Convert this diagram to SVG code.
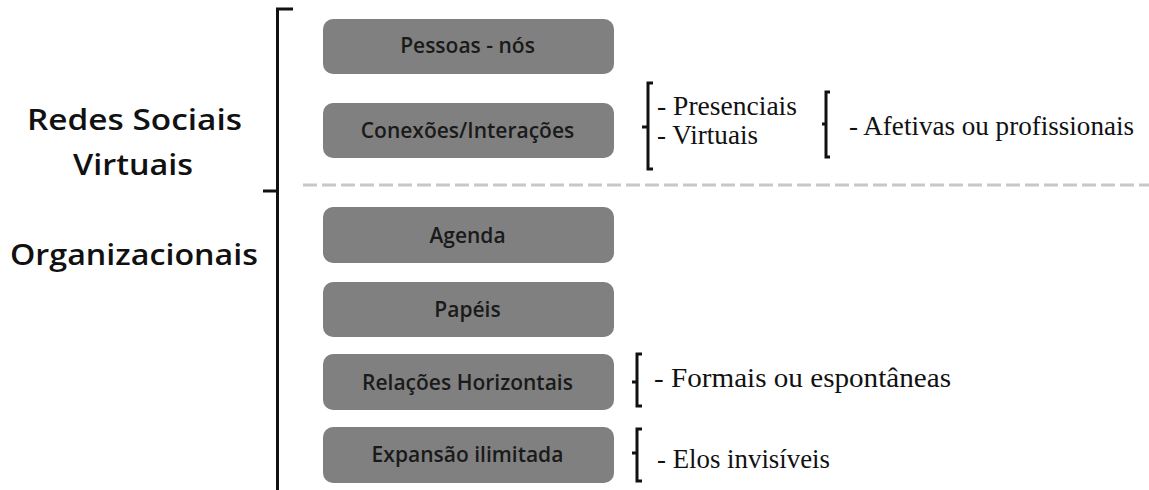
<svg xmlns="http://www.w3.org/2000/svg" width="1149" height="490" viewBox="0 0 1149 490">
<style>
.box{fill:#808080;}
.bt{font-family:"Open Sans","Liberation Sans",sans-serif;font-weight:600;font-size:21px;fill:#1a1a1a;text-anchor:middle;}
.lbl{font-family:"Open Sans","Liberation Sans",sans-serif;font-weight:600;font-size:29px;fill:#111;text-anchor:middle;}
.st{font-family:"Liberation Serif",serif;font-size:27px;fill:#111;}
.br{fill:none;stroke:#111;stroke-width:3;}
.dash{stroke:#c8c8c8;stroke-width:3;stroke-dasharray:14,5;}
</style>
<rect width="1149" height="490" fill="#fff"/>
<g id="labels">
<text class="lbl" x="134.5" y="130" textLength="215" lengthAdjust="spacingAndGlyphs">Redes  Sociais</text>
<text class="lbl" x="133" y="175" textLength="120" lengthAdjust="spacingAndGlyphs">Virtuais</text>
<text class="lbl" x="134" y="265" textLength="248" lengthAdjust="spacingAndGlyphs">Organizacionais</text>
</g>
<g id="connectors">
<path class="br" d="M293,9 H277.5 V490"/>
<path class="br" d="M263,191 H277.5"/>
<line class="dash" x1="303" y1="185" x2="1149" y2="185"/>
<path class="br" d="M653,83 H648 V169 H653 M648,127 H642"/>
<path class="br" d="M830,92 H826 V157 H830 M826,124 H822" stroke-width="2.5"/>
<path class="br" d="M642,354 H637 V406 H642 M637,382 H632" stroke-width="2.5"/>
<path class="br" d="M642,429 H637 V481 H642 M637,453 H632" stroke-width="2.5"/>
</g>
<g id="n1"><rect class="box" x="323" y="19" width="291" height="55" rx="10"/><text class="bt" x="467.5" y="53">Pessoas - nós</text></g>
<g id="n2"><rect class="box" x="323" y="103" width="291" height="55" rx="10"/><text class="bt" x="467.5" y="138">Conexões/Interações</text></g>
<g id="n3"><rect class="box" x="323" y="207" width="291" height="56" rx="10"/><text class="bt" x="467.5" y="243">Agenda</text></g>
<g id="n4"><rect class="box" x="323" y="282" width="291" height="55" rx="10"/><text class="bt" x="467.5" y="317">Papéis</text></g>
<g id="n5"><rect class="box" x="323" y="354" width="291" height="56" rx="10"/><text class="bt" x="467.5" y="390">Relações Horizontais</text></g>
<g id="n6"><rect class="box" x="323" y="427" width="291" height="56" rx="10"/><text class="bt" x="467.5" y="462">Expansão ilimitada</text></g>
<g id="side">
<text class="st" x="657" y="115" textLength="140" lengthAdjust="spacingAndGlyphs">- Presenciais</text>
<text class="st" x="657" y="144" textLength="101" lengthAdjust="spacingAndGlyphs">- Virtuais</text>
<text class="st" x="849" y="135" textLength="285" lengthAdjust="spacingAndGlyphs">- Afetivas ou profissionais</text>
<text class="st" x="654" y="387" textLength="297" lengthAdjust="spacingAndGlyphs">- Formais ou espontâneas</text>
<text class="st" x="657" y="468" textLength="173" lengthAdjust="spacingAndGlyphs">- Elos invisíveis</text>
</g>
</svg>
